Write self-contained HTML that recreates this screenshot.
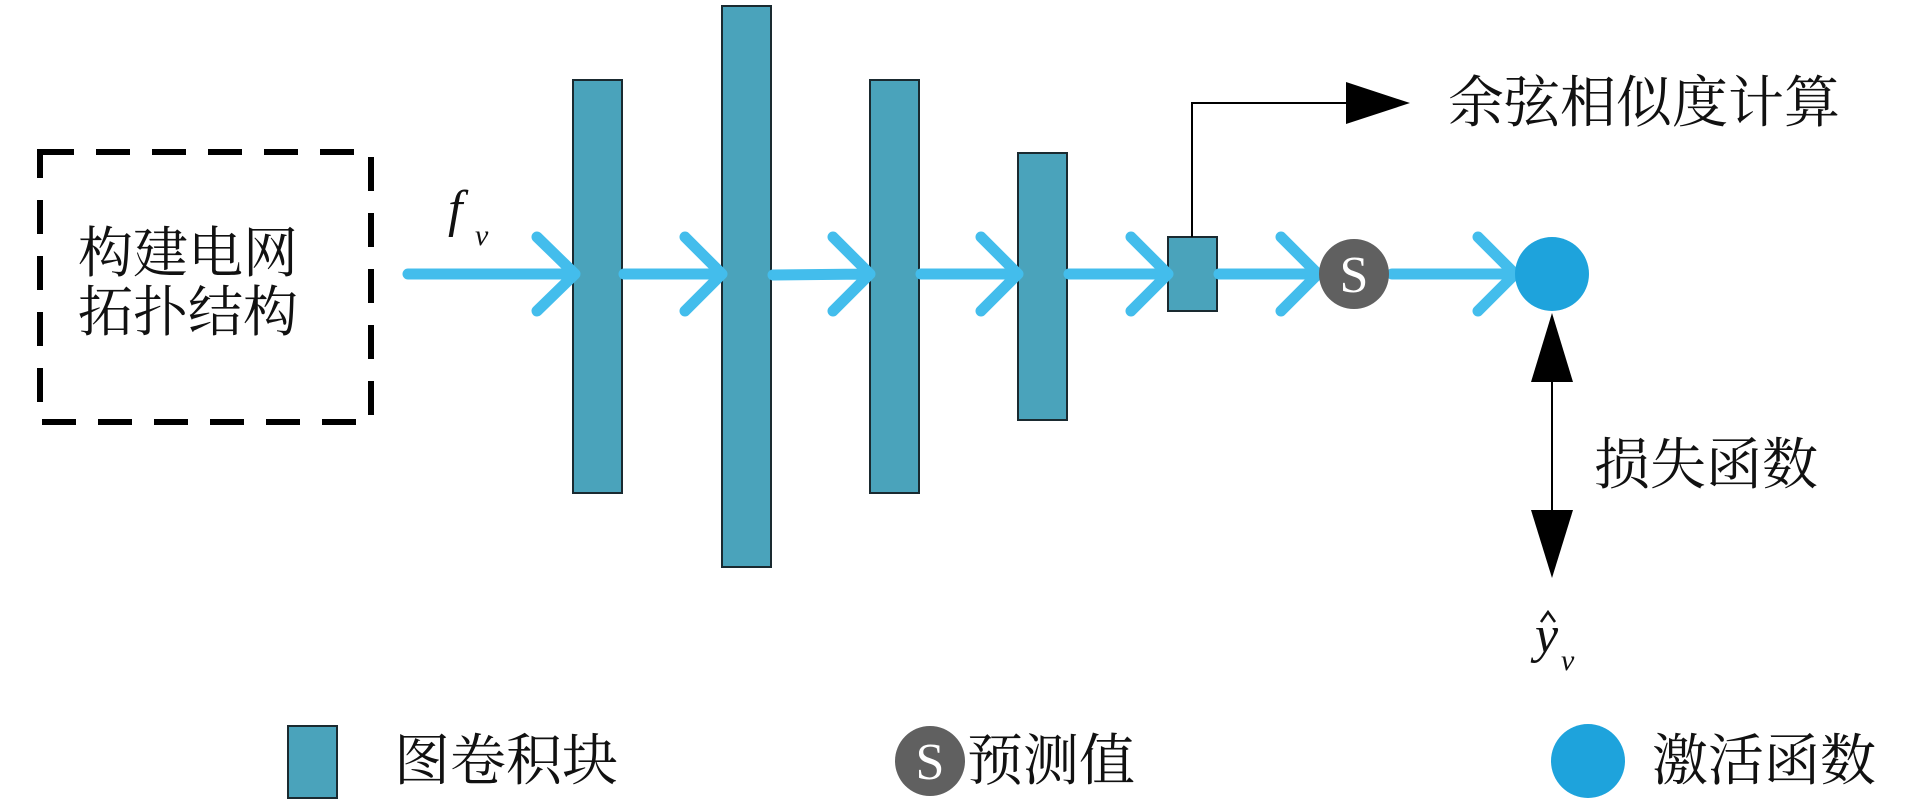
<!DOCTYPE html>
<html><head><meta charset="utf-8"><style>
html,body{margin:0;padding:0;background:#fff;}
svg{display:block;}
text{font-family:"Liberation Serif","Noto Serif CJK SC",serif;fill:#111;}
</style></head><body>
<svg width="1913" height="803" viewBox="0 0 1913 803" xmlns="http://www.w3.org/2000/svg">
<rect x="40" y="152" width="331" height="270" fill="none" stroke="#000" stroke-width="6" stroke-dasharray="34,22"/>
<text x="188" y="272" font-size="55" text-anchor="middle">构建电网</text>
<text x="188" y="331" font-size="55" text-anchor="middle">拓扑结构</text>
<text x="448" y="226" font-size="52" font-style="italic">f</text>
<text x="475" y="245" font-size="30" font-style="italic">v</text>
<g fill="#4aa3bb" stroke="#1a2a30" stroke-width="2">
<rect x="573" y="80" width="49" height="413"/>
<rect x="722" y="6" width="49" height="561"/>
<rect x="870" y="80" width="49" height="413"/>
<rect x="1018" y="153" width="49" height="267"/>
<rect x="1168" y="237" width="49" height="74"/>
</g>
<g stroke="#43bdec" stroke-width="11" stroke-linecap="round" stroke-linejoin="round" fill="none">
<path d="M408 274H575 M537 237L575 274L537 311"/>
<path d="M624 274H722 M685 237L722 274L685 311"/>
<path d="M773 275L870 274 M833 237L870 274L833 311"/>
<path d="M921 274H1018 M981 237L1018 274L981 311"/>
<path d="M1069 274H1168 M1131 237L1168 274L1131 311"/>
<path d="M1219 274H1318 M1281 237L1318 274L1281 311"/>
<path d="M1392 274H1515 M1478 237L1515 274L1478 311"/>
</g>
<circle cx="1354" cy="274" r="35" fill="#606060"/>
<text x="1354" y="292" font-size="52" text-anchor="middle" style="fill:#fff">S</text>
<circle cx="1552" cy="274" r="37" fill="#1ea3dc"/>
<path d="M1192 237V103H1346" fill="none" stroke="#000" stroke-width="2"/>
<polygon points="1346,82 1410,103 1346,124" fill="#000"/>
<text x="1448" y="122" font-size="56">余弦相似度计算</text>
<line x1="1552" y1="380" x2="1552" y2="512" stroke="#000" stroke-width="2"/>
<polygon points="1552,313 1573,382 1531,382" fill="#000"/>
<polygon points="1552,578 1573,510 1531,510" fill="#000"/>
<text x="1594" y="484" font-size="56">损失函数</text>
<text x="1535" y="652" font-size="52" font-style="italic">y</text>
<path d="M1541 622L1548 612L1555 622" fill="none" stroke="#111" stroke-width="2.5"/>
<text x="1561" y="670" font-size="30" font-style="italic">v</text>
<rect x="288" y="726" width="49" height="72" fill="#4aa3bb" stroke="#1a2a30" stroke-width="2"/>
<text x="394" y="780" font-size="56">图卷积块</text>
<circle cx="930" cy="761" r="35" fill="#606060"/>
<text x="930" y="779" font-size="52" text-anchor="middle" style="fill:#fff">S</text>
<text x="967" y="780" font-size="56">预测值</text>
<circle cx="1588" cy="761" r="37" fill="#1ea3dc"/>
<text x="1652" y="780" font-size="56">激活函数</text>
</svg>
</body></html>
